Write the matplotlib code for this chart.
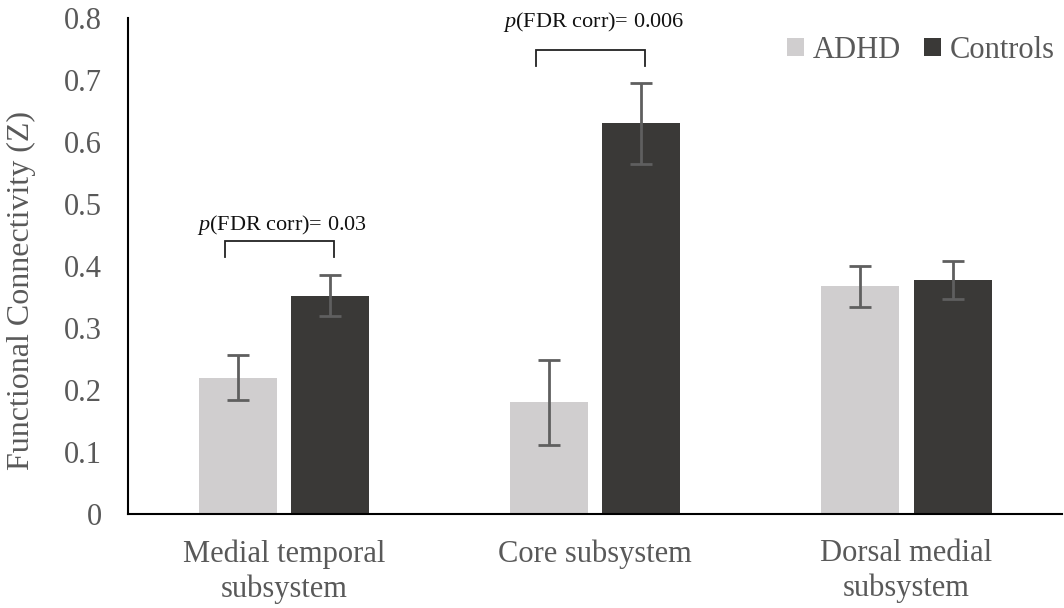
import numpy as np
import matplotlib
matplotlib.use("Agg")
import matplotlib.pyplot as plt

plt.rcParams['font.family'] = ['Liberation Serif', 'DejaVu Serif']
plt.rcParams['mathtext.fontset'] = 'custom'
plt.rcParams['mathtext.it'] = 'Liberation Serif:italic'
plt.rcParams['mathtext.rm'] = 'Liberation Serif'

# data
categories = ['Medial temporal\nsubsystem', 'Core subsystem', 'Dorsal medial\nsubsystem']
adhd = [0.220, 0.180, 0.367]
adhd_err = [0.036, 0.069, 0.033]
controls = [0.352, 0.630, 0.377]
controls_err = [0.033, 0.065, 0.031]
yticks = [0, 0.1, 0.2, 0.3, 0.4, 0.5, 0.6, 0.7, 0.8]
ytick_labels = ['0', '0.1', '0.2', '0.3', '0.4', '0.5', '0.6', '0.7', '0.8']

# significance brackets: group index, bracket top, bracket bottom, label, label height
sig_groups = [0, 1]
sig_top = [0.440, 0.748]
sig_bottom = [0.415, 0.723]
sig_labels = ['$p$(FDR corr)= 0.03', '$p$(FDR corr)= 0.006']
sig_text_y = [0.466, 0.794]

fig = plt.figure(figsize=(10.64, 6.08), dpi=100)
ax = fig.add_axes([0.1203, 0.1546, 0.878, 0.8158])

x = np.arange(len(categories))
w = 0.25
off = 0.148
c_adhd = '#d0cecf'
c_ctrl = '#3a3937'
err_kw = dict(ecolor='#5f5f5f', elinewidth=2, capsize=8, capthick=2)

ax.bar(x - off, adhd, w, color=c_adhd, yerr=adhd_err, error_kw=err_kw, label='ADHD')
ax.bar(x + off, controls, w, color=c_ctrl, yerr=controls_err, error_kw=err_kw, label='Controls')

# brackets
for g, t, b, lab, ty in zip(sig_groups, sig_top, sig_bottom, sig_labels, sig_text_y):
    x0, x1 = g - 0.19, g + 0.16
    ax.plot([x0, x0, x1, x1], [b, t, t, b], color='#222222', lw=1.3, solid_joinstyle='miter')
    ax.text((x0 + x1) / 2 + 0.01, ty, lab, ha='center', va='center',
            fontsize=16, color='#111111')

ax.set_xlim(-0.5, 2.5)
ax.set_ylim(0, 0.8)
ax.set_xticks(x)
ax.set_xticklabels(categories, fontsize=22, color='#595959', linespacing=1.25)
ax.set_yticks(yticks)
ax.set_yticklabels(ytick_labels, fontsize=22, color='#595959')
ax.tick_params(axis='both', length=0)
ax.tick_params(axis='x', pad=18)
ax.tick_params(axis='y', pad=19)
for s in ['top', 'right']:
    ax.spines[s].set_visible(False)
ax.spines['left'].set_linewidth(1.5)
ax.spines['bottom'].set_linewidth(1.5)

ax.set_ylabel('Functional Connectivity (Z)', fontsize=23, color='#595959')
ax.yaxis.set_label_coords(-0.098, 0.45)

leg = ax.legend(frameon=False, ncol=2, loc='center right', bbox_to_anchor=(1.022, 0.935),
                fontsize=22, handlelength=0.55, handleheight=0.55, handletextpad=0.3,
                columnspacing=0.75, labelcolor='#595959')

fig.savefig('out.png', dpi=100)
